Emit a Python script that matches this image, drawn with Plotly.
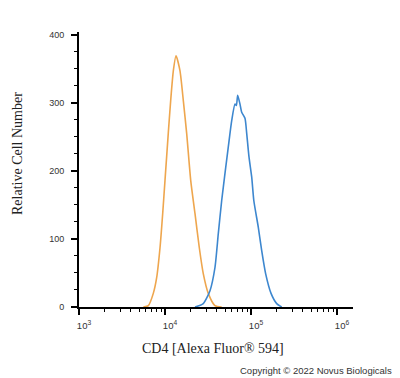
import numpy as np
import plotly.graph_objects as go

# Orange histogram (isotype/control): log10 intensity, relative cell count
orange_log = [3.748, 3.806, 3.864, 3.903, 3.942, 3.973, 4.000, 4.038, 4.066, 4.097, 4.128,
              4.174, 4.213, 4.252, 4.299, 4.349, 4.399, 4.445, 4.503, 4.581, 4.659]
orange_cnt = [0, 2, 20, 43, 87, 137, 186, 255, 303, 347, 369,
              347, 303, 255, 186, 137, 87, 49, 20, 2, 0]

# Blue histogram (CD4 stained)
blue_log = [4.349, 4.445, 4.523, 4.581, 4.620, 4.659, 4.678, 4.706, 4.736, 4.776, 4.814,
            4.830, 4.845, 4.872, 4.892, 4.930, 4.950, 4.977, 5.008, 5.033, 5.085,
            5.124, 5.170, 5.233, 5.299, 5.357]
blue_cnt = [0, 5, 24, 58, 108, 156, 176, 205, 235, 274, 298,
            296, 311, 298, 286, 277, 255, 220, 191, 156, 117,
            83, 49, 20, 5, 0]

y_ticks = [0, 100, 200, 300, 400]
x_major = [1e3, 1e4, 1e5, 1e6]
x_major_text = ["10<sup>3</sup>", "10<sup>4</sup>", "10<sup>5</sup>", "10<sup>6</sup>"]
x_minor = [m * 10 ** d for d in range(3, 6) for m in range(2, 10)]

W, H = 400, 378
L, R, T, B = 79, 47, 32, 71
pw, ph = W - L - R, H - T - B

fig = go.Figure()
fig.add_trace(go.Scatter(x=np.power(10, orange_log), y=orange_cnt, mode="lines",
                         line=dict(color="#EEA64E", width=1.6, shape="spline", smoothing=0.6),
                         hoverinfo="skip"))
fig.add_trace(go.Scatter(x=np.power(10, blue_log), y=blue_cnt, mode="lines",
                         line=dict(color="#3D87CF", width=1.6, shape="spline", smoothing=0.6),
                         hoverinfo="skip"))

def px_x(p):
    return (p - L) / pw

def px_y(p):
    return (H - B - p) / ph

fig.update_layout(
    width=W, height=H,
    margin=dict(l=L, r=R, t=T, b=B, pad=0),
    paper_bgcolor="white", plot_bgcolor="white",
    showlegend=False,
    xaxis=dict(type="log", range=[3, 3 + pw / 86.0],
               tickvals=x_major, ticktext=x_major_text,
               ticks="outside", ticklen=6, tickwidth=1.5, tickcolor="black",
               showline=True, linecolor="black", linewidth=1.8, showgrid=False, zeroline=False,
               tickfont=dict(family="Arial, Liberation Sans", size=9.5, color="#333"),
               ticklabelstandoff=3, ticklabelshift=5,
               minor=dict(tickvals=x_minor, ticks="outside", ticklen=3, tickwidth=1.2,
                          tickcolor="black", showgrid=False)),
    yaxis=dict(range=[0, ph / 0.681], tickvals=y_ticks,
               ticks="outside", ticklen=6, tickwidth=1.5, tickcolor="black",
               showline=True, linecolor="black", linewidth=1.8, showgrid=False, zeroline=False,
               tickfont=dict(family="Arial, Liberation Sans", size=9, color="#333"),
               ticklabelstandoff=5,
               minor=dict(dtick=25, ticks="outside", ticklen=3, tickwidth=1.2,
                          tickcolor="black", showgrid=False)),
    annotations=[
        dict(text="Relative Cell Number", xref="paper", yref="paper",
             x=px_x(17), y=px_y(154), textangle=-90, showarrow=False,
             xanchor="center", yanchor="middle",
             font=dict(family="Liberation Serif, Times New Roman", size=14, color="#222")),
        dict(text="CD4 [Alexa Fluor® 594]", xref="paper", yref="paper",
             x=px_x(213), y=px_y(348), showarrow=False,
             xanchor="center", yanchor="middle",
             font=dict(family="Liberation Serif, Times New Roman", size=14, color="#222")),
        dict(text="Copyright © 2022 Novus Biologicals", xref="paper", yref="paper",
             x=px_x(394), y=px_y(370), showarrow=False,
             xanchor="right", yanchor="middle",
             font=dict(family="Arial, Liberation Sans", size=9.5, color="#333")),
    ],
)

fig.write_html("out.html", config={"displayModeBar": False},
               post_script="document.body.style.margin='0';document.body.style.padding='0';")
